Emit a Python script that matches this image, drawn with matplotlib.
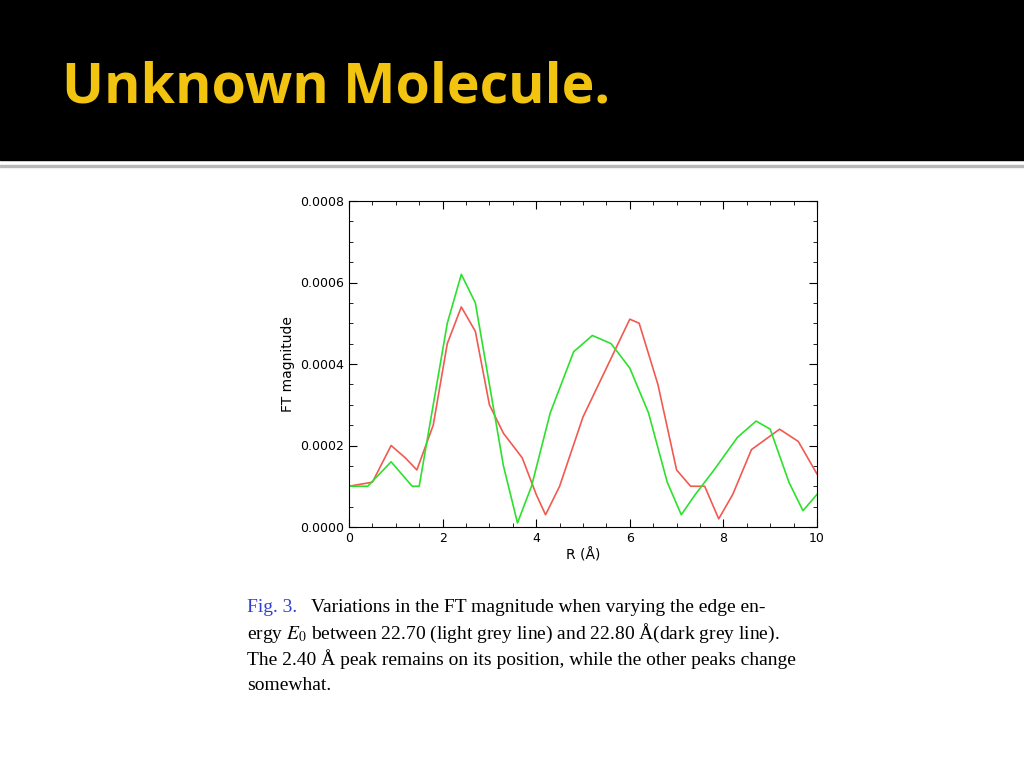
import numpy as np
import matplotlib.pyplot as plt
from matplotlib.ticker import MultipleLocator, FormatStrFormatter

plt.rcParams["mathtext.fontset"] = "stix"

# values
red_r = [0, 0.5, 0.9, 1.2, 1.45, 1.8, 2.1, 2.4, 2.7, 3.0, 3.3, 3.7, 4.0, 4.2, 4.5,
         5.0, 5.5, 6.0, 6.2, 6.6, 7.0, 7.3, 7.6, 7.9, 8.2, 8.6, 9.2, 9.6, 10]
red_ft = [0.0001, 0.00011, 0.0002, 0.00017, 0.00014, 0.00025, 0.00045, 0.00054, 0.00048,
          0.0003, 0.00023, 0.00017, 0.00008, 0.00003, 0.0001, 0.00027, 0.00039, 0.00051,
          0.0005, 0.00035, 0.00014, 0.0001, 0.0001, 0.00002, 0.00008, 0.00019, 0.00024,
          0.00021, 0.00013]
green_r = [0, 0.4, 0.9, 1.2, 1.35, 1.5, 1.8, 2.1, 2.4, 2.7, 3.0, 3.3, 3.6, 3.9, 4.3,
           4.8, 5.2, 5.6, 6.0, 6.4, 6.8, 7.1, 7.4, 7.8, 8.3, 8.7, 9.0, 9.4, 9.7, 10]
green_ft = [0.0001, 0.0001, 0.00016, 0.00012, 0.0001, 0.0001, 0.0003, 0.0005, 0.00062,
            0.00055, 0.00035, 0.00015, 0.00001, 0.0001, 0.00028, 0.00043, 0.00047, 0.00045,
            0.00039, 0.00028, 0.00011, 0.00003, 0.00008, 0.00014, 0.00022, 0.00026,
            0.00024, 0.00011, 0.00004, 0.00008]

fig = plt.figure(figsize=(10.24, 7.68), dpi=100)

# slide header
fig.patches.append(plt.Rectangle((0, 1 - 160 / 768), 1, 160 / 768, transform=fig.transFigure,
                                 color="black", zorder=0))
fig.patches.append(plt.Rectangle((0, 1 - 167 / 768), 1, 2 / 768, transform=fig.transFigure,
                                 color="#b8b8b8", zorder=0))
fig.text(62 / 1024, 1 - 88 / 768, "Unknown Molecule.", color="#f2c40f", fontsize=40,
         fontweight="bold", family="Open Sans", va="center")

ax = fig.add_axes([349 / 1024, 1 - 527 / 768, 468 / 1024, 326 / 768])
ax.plot(red_r, red_ft, color="#f05a50", lw=1.2)
ax.plot(green_r, green_ft, color="#2ee02e", lw=1.2)
ax.set_xlim(0, 10)
ax.set_ylim(0, 0.0008)
ax.xaxis.set_major_locator(MultipleLocator(2))
ax.xaxis.set_minor_locator(MultipleLocator(0.5))
ax.yaxis.set_major_locator(MultipleLocator(0.0002))
ax.yaxis.set_minor_locator(MultipleLocator(0.00005))
ax.yaxis.set_major_formatter(FormatStrFormatter("%.4f"))
ax.tick_params(which="both", direction="in", top=True, right=True, labelsize=9)
ax.tick_params(which="major", length=6)
ax.tick_params(which="minor", length=3)
ax.set_xlabel("R (Å)", fontsize=10, labelpad=2)
ax.set_ylabel("FT magnitude", fontsize=10)

# caption
cap_y = 1 - 607 / 768
fig.text(247 / 1024, cap_y, "Fig. 3.", color="#3040d0", fontsize=14, family="Liberation Serif",
         va="center")
fig.text(311 / 1024, cap_y, "Variations in the FT magnitude when varying the edge en-",
         fontsize=14, family="Liberation Serif", va="center")
lines = [r"ergy $E_0$ between 22.70 (light grey line) and 22.80 Å(dark grey line).",
         "The 2.40 Å peak remains on its position, while the other peaks change",
         "somewhat."]
for i, t in enumerate(lines):
    fig.text(247 / 1024, 1 - (633 + 26 * i) / 768, t, fontsize=14,
             family="Liberation Serif", va="center")

fig.savefig("out.png", dpi=100)
